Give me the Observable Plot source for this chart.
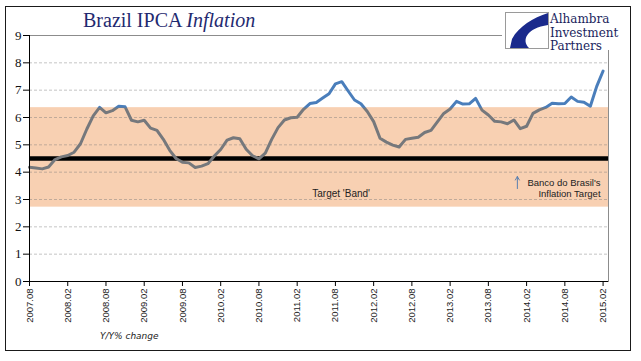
<!DOCTYPE html>
<html><head><meta charset="utf-8">
<script src="https://cdn.jsdelivr.net/npm/d3@7"></script>
<script src="https://cdn.jsdelivr.net/npm/@observablehq/plot@0.6"></script>
<style>
body{margin:0;background:#fff;}
#wrap{position:relative;width:641px;height:361px;overflow:hidden;background:#fff;}
#chart{position:absolute;left:0;top:0;}
#border{position:absolute;left:5px;top:6px;width:624px;height:343px;border:1px solid #1a1a1a;pointer-events:none;}
#title{position:absolute;left:83px;top:10px;font:20px "Liberation Serif",serif;line-height:20px;color:#1f2a70;white-space:nowrap;}
#logo{position:absolute;left:502px;top:9px;width:112px;height:41px;background:#fff;}
#logo svg{position:absolute;left:3px;top:3px;}
#logotext{position:absolute;left:48px;top:4px;font:12px "DejaVu Serif",serif;line-height:13.5px;color:#1b1f5e;white-space:nowrap;}
#yy{position:absolute;left:100px;top:331px;font:italic 9px "DejaVu Sans",sans-serif;color:#222;white-space:nowrap;}
</style></head><body>
<div id="wrap">
  <div id="chart"></div>
  <div id="border"></div>
  <div id="title">Brazil IPCA <i>Inflation</i></div>
  <div id="logo">
    <svg width="44" height="37" viewBox="0 0 44 37">
      <rect x="0.5" y="0.5" width="43" height="36" fill="#fff" stroke="#9a9a9a"/>
      <path d="M43,1 C28,6 14,14 7,27 L5,36 L24,36 C16,28 22,16 43,13 Z" fill="#1a2a8c"/>
    </svg>
    <div id="logotext">Alhambra<br>Investment<br>Partners</div>
  </div>
  <div id="yy">Y/Y% change</div>
</div>
<script>
const tickLabels = ["2007.08","2008.02","2008.08","2009.02","2009.08","2010.02","2010.08","2011.02","2011.08","2012.02","2012.08","2013.02","2013.08","2014.02","2014.08","2015.02"];
const ipca = [
  4.18, 4.15, 4.12, 4.19, 4.46,
  4.56, 4.61, 4.73, 5.04, 5.58, 6.06, 6.37, 6.17, 6.25, 6.41, 6.39, 5.90,
  5.84, 5.90, 5.61, 5.53, 5.20, 4.80, 4.50, 4.36, 4.34, 4.17, 4.22, 4.31,
  4.59, 4.83, 5.17, 5.26, 5.22, 4.84, 4.60, 4.49, 4.70, 5.20, 5.63, 5.91,
  5.99, 6.01, 6.30, 6.51, 6.55, 6.71, 6.87, 7.23, 7.31, 6.97, 6.64, 6.50,
  6.22, 5.85, 5.24, 5.10, 4.99, 4.92, 5.20, 5.24, 5.28, 5.45, 5.53, 5.84,
  6.15, 6.31, 6.59, 6.49, 6.50, 6.70, 6.27, 6.09, 5.86, 5.84, 5.77, 5.91,
  5.59, 5.68, 6.15, 6.28, 6.37, 6.52, 6.50, 6.51, 6.75, 6.59, 6.56, 6.41,
  7.14, 7.70
];
const yTicks = [0,1,2,3,4,5,6,7,8,9];
const gridValues = [1,2,3,4,5,6,7,8];
const bandLow = 2.72, bandHigh = 6.36, target = 4.5;
const bandNote = [{i: 48.9, v: 3.22, text: "Target 'Band'"}];
const targetNote = [{i: 89.6, v: 3.42, text: "Banco do Brasil's\nInflation Target"}];
const arrowNote = [{i: 76.55, v1: 3.40, v2: 3.84}];

const xMax = 90.85;
const data = ipca.map((v, i) => ({i, v}));
const xTicks = tickLabels.map((_, k) => k * 6);
const gray = "#76787c", blue = "#4a7ebb";

const chart = Plot.plot({
  width: 641, height: 361,
  marginLeft: 29, marginRight: 33, marginTop: 35, marginBottom: 80,
  x: {domain: [0, xMax]},
  y: {domain: [0, 9]},
  style: {background: "transparent", overflow: "visible"},
  marks: [
    Plot.rect([{lo: bandLow, hi: bandHigh}], {x1: 0, x2: xMax, y1: "lo", y2: "hi", fill: "#f8d0b2"}),
    Plot.ruleY(gridValues, {stroke: "#7a7a7a", strokeOpacity: 0.55, strokeDasharray: "3,2", strokeWidth: 0.8}),
    Plot.frame({stroke: "#8c8c8c"}),
    Plot.ruleY([target], {stroke: "#000", strokeWidth: 4.5}),
    (index, scales) => {
      const yy = scales.y(bandHigh);
      const defs = d3.create("svg:defs");
      const g = defs.append("linearGradient").attr("id", "ipcaGrad")
        .attr("gradientUnits", "userSpaceOnUse")
        .attr("x1", 0).attr("x2", 0).attr("y1", yy - 0.5).attr("y2", yy + 0.5);
      g.append("stop").attr("offset", 0).attr("stop-color", blue);
      g.append("stop").attr("offset", 1).attr("stop-color", gray);
      return defs.node();
    },
    Plot.line(data, {x: "i", y: "v", stroke: "url(#ipcaGrad)", strokeWidth: 3, strokeLinejoin: "round"}),
    Plot.ruleX([0], {stroke: "#000", strokeWidth: 1}),
    Plot.ruleY([0], {stroke: "#000", strokeWidth: 1}),
    Plot.axisY({ticks: yTicks, tickSize: 6, tickPadding: 2, fontSize: 13, fontFamily: "Liberation Serif", stroke: "#000", fill: "#111", label: null}),
    Plot.axisX({ticks: xTicks, tickFormat: d => tickLabels[Math.round(d / 6)], tickRotate: -90, tickSize: 5, tickPadding: 2, fontSize: 9.5, fontFamily: "Liberation Sans", stroke: "#000", fill: "#222", label: null}),
    Plot.text(bandNote, {x: "i", y: "v", text: "text", fontSize: 10, fontFamily: "Liberation Sans", fill: "#222"}),
    Plot.text(targetNote, {x: "i", y: "v", text: "text", textAnchor: "end", lineHeight: 1.2, fontSize: 9.5, fontFamily: "Liberation Sans", fill: "#222"}),
    Plot.arrow(arrowNote, {x1: "i", x2: "i", y1: "v1", y2: "v2", stroke: "#5a7fb0", strokeWidth: 1, headLength: 7})
  ]
});
document.getElementById("chart").appendChild(chart);
</script>
</body></html>
